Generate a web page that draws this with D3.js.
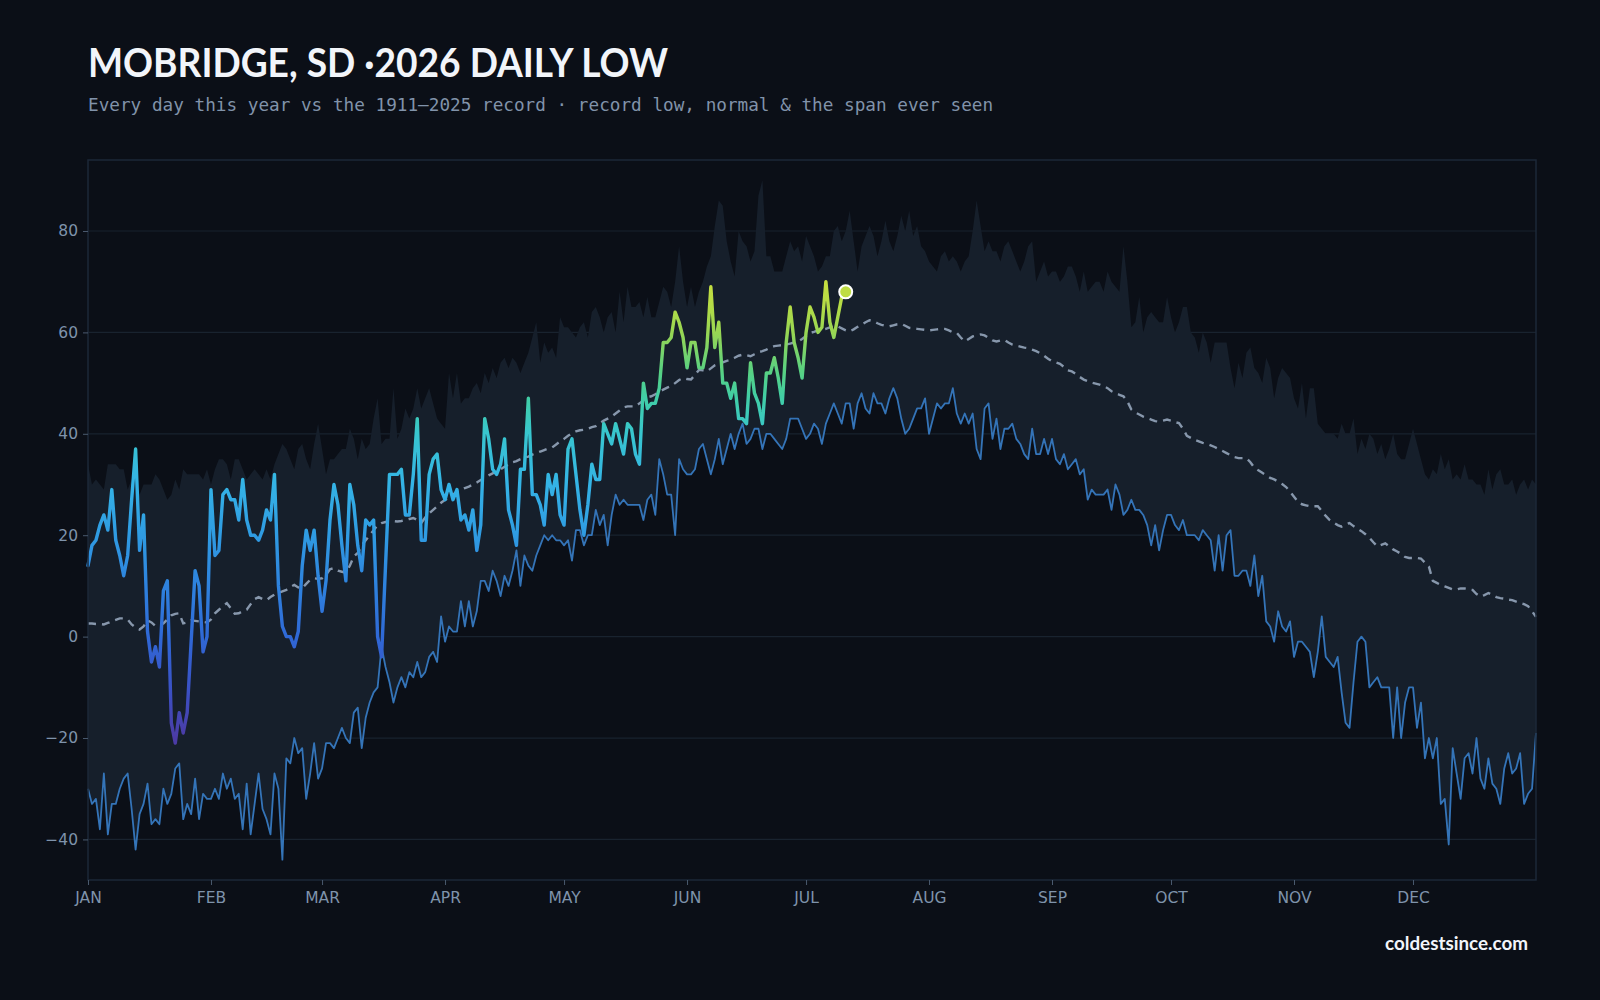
<!DOCTYPE html>
<html>
<head>
<meta charset="utf-8">
<script src="https://cdn.jsdelivr.net/npm/d3@7"></script>
<style>
  body { margin: 0; background: #0b0f17; }
</style>
</head>
<body>
<div id="chart"></div>
<script>
// 2026 daily lows so far, one value per day from Jan 1
const lows2026 = [
  14, 18, 19, 22, 24, 21, 29, 19, 16, 12,
  16, 27, 37, 17, 24, 1, -5, -2, -6, 9,
  11, -17, -21, -15, -19, -15, -1, 13, 10, -3,
  0, 29, 16, 17, 28, 29, 27, 27, 23, 31,
  23, 20, 20, 19, 21, 25, 23, 32, 10, 2,
  0, 0, -2, 1, 14, 21, 17, 21, 12, 5,
  11, 23, 30, 26, 18, 11, 30, 26, 18, 13,
  23, 22, 23, 0, -4, 14, 32, 32, 32, 33,
  24, 24, 32, 43, 19, 19, 32, 35, 36, 29,
  27, 30, 27, 29, 23, 24, 21, 25, 17, 22,
  43, 39, 33, 32, 34, 39, 25, 22, 18, 33,
  33, 47, 28, 28, 26, 22, 32, 28, 32, 24,
  22, 37, 39, 32, 25, 20, 26, 34, 31, 31,
  42, 40, 38, 42, 39, 36, 42, 41, 36, 34,
  50, 45, 46, 46, 49, 58, 58, 59, 64, 62,
  59, 53, 58, 58, 53, 53, 57, 69, 57, 62,
  50, 50, 47, 50, 43, 43, 42, 54, 48, 46,
  42, 52, 52, 55, 51, 46, 58, 65, 58, 55,
  51, 60, 65, 63, 60, 61, 70, 62, 59, 63,
  67, 68
];

// 1911-2025 record low for each calendar day
const recordLow = [
  -30, -33, -32, -38, -27, -39, -33, -33, -30, -28,
  -27, -34, -42, -35, -33, -29, -37, -36, -37, -30,
  -33, -31, -26, -25, -36, -33, -35, -28, -36, -31,
  -32, -32, -30, -32, -27, -30, -28, -32, -31, -38,
  -29, -39, -33, -27, -34, -36, -39, -27, -30, -44,
  -24, -25, -20, -23, -22, -32, -27, -21, -28, -26,
  -21, -21, -22, -20, -18, -20, -21, -15, -14, -22,
  -16, -13, -11, -10, -2, -6, -9, -13, -10, -8,
  -10, -7, -8, -5, -8, -7, -4, -3, -5, 4,
  -1, 2, 1, 1, 7, 2, 7, 2, 5, 11,
  11, 9, 13, 11, 8, 12, 10, 13, 17, 10,
  16, 14, 13, 16, 18, 20, 19, 20, 19, 19,
  18, 19, 15, 21, 21, 18, 20, 20, 25, 22,
  24, 18, 24, 28, 26, 27, 26, 26, 26, 26,
  23, 27, 28, 24, 35, 32, 28, 28, 20, 35,
  33, 32, 32, 33, 37, 38, 35, 32, 35, 39,
  34, 37, 40, 37, 40, 42, 38, 39, 41, 41,
  37, 40, 40, 39, 38, 37, 39, 43, 43, 43,
  41, 39, 40, 42, 41, 38, 42, 44, 46, 44,
  42, 46, 46, 41, 46, 48, 45, 44, 48, 46,
  46, 44, 47, 49, 47, 43, 40, 41, 43, 45,
  45, 47, 40, 43, 46, 45, 46, 46, 49, 44,
  42, 44, 42, 44, 37, 35, 45, 46, 39, 43,
  37, 41, 41, 42, 39, 38, 36, 35, 41, 36,
  36, 39, 36, 39, 35, 34, 36, 33, 34, 35,
  32, 33, 27, 29, 28, 28, 28, 29, 25, 30,
  28, 24, 25, 27, 25, 25, 24, 22, 18, 22,
  17, 21, 24, 24, 22, 21, 23, 20, 20, 20,
  19, 21, 20, 19, 13, 20, 13, 20, 21, 12,
  12, 13, 13, 10, 16, 8, 12, 3, 2, -1,
  5, 2, 1, 3, -4, -1, -1, -2, -3, -8,
  -3, 4, -4, -5, -6, -4, -11, -17, -18, -9,
  -1, 0, -1, -10, -9, -8, -10, -10, -10, -20,
  -10, -20, -13, -10, -10, -18, -13, -24, -20, -24,
  -20, -33, -32, -41, -22, -27, -32, -24, -23, -27,
  -20, -28, -30, -24, -29, -30, -33, -26, -23, -27,
  -26, -23, -33, -31, -30, -19
];

// warmest low ever seen for each calendar day (top of the span)
const recordHigh = [
  34, 30, 31, 30, 29, 34, 34, 34, 33, 33,
  29, 31, 32, 28, 30, 30, 30, 32, 31, 29,
  27, 28, 31, 29, 33, 32, 32, 32, 32, 31,
  33, 30, 33, 35, 35, 34, 31, 35, 35, 33,
  31, 32, 33, 32, 31, 33, 31, 34, 36, 38,
  37, 35, 33, 37, 38, 35, 33, 38, 42, 37,
  32, 35, 35, 36, 37, 37, 41, 39, 35, 39,
  37, 38, 43, 47, 38, 39, 39, 49, 39, 41,
  45, 43, 45, 49, 45, 47, 49, 46, 43, 42,
  41, 52, 47, 52, 46, 47, 47, 49, 50, 48,
  52, 50, 53, 51, 54, 55, 53, 55, 54, 52,
  54, 56, 59, 62, 54, 58, 56, 57, 55, 63,
  61, 61, 60, 59, 61, 62, 59, 64, 65, 63,
  60, 63, 64, 60, 68, 62, 69, 65, 65, 66,
  63, 67, 63, 63, 66, 69, 68, 65, 70, 77,
  70, 65, 69, 65, 68, 70, 73, 75, 81, 86,
  85, 78, 74, 71, 80, 78, 77, 74, 76, 87,
  90, 75, 75, 72, 72, 72, 75, 78, 76, 77,
  74, 79, 77, 75, 72, 73, 75, 75, 80, 81,
  78, 80, 84, 78, 72, 77, 79, 81, 79, 75,
  78, 82, 78, 76, 79, 83, 80, 84, 79, 81,
  77, 76, 74, 73, 72, 75, 76, 74, 75, 74,
  72, 74, 75, 80, 86, 81, 76, 78, 76, 76,
  74, 77, 78, 76, 74, 72, 74, 77, 78, 70,
  72, 74, 71, 72, 72, 70, 71, 73, 73, 71,
  68, 72, 68, 69, 70, 70, 68, 72, 70, 69,
  68, 77, 70, 61, 62, 67, 60, 63, 64, 63,
  62, 62, 67, 63, 60, 62, 65, 65, 60, 59,
  56, 60, 58, 54, 58, 58, 58, 58, 53, 49,
  54, 51, 56, 57, 53, 52, 50, 55, 53, 47,
  51, 53, 52, 51, 47, 45, 50, 43, 49, 49,
  42, 41, 40, 40, 40, 39, 42, 40, 40, 43,
  36, 39, 37, 40, 39, 36, 38, 35, 37, 40,
  36, 35, 35, 38, 41, 38, 35, 32, 31, 33,
  32, 36, 33, 35, 31, 32, 31, 34, 31, 31,
  30, 30, 28, 33, 29, 32, 33, 30, 30, 31,
  28, 30, 31, 29, 31, 30
];

// normal daily low
const normalLow = [
  2.6, 2.6, 2.5, 2.5, 2.4, 2.7, 3.0, 3.3, 3.6, 3.6,
  3.4, 2.4, 1.8, 1.4, 2.0, 3.2, 2.8, 2.1, 2.3, 2.6,
  3.4, 4.2, 4.5, 4.6, 2.6, 2.8, 3.2, 3.1, 3.0, 2.9,
  2.8, 3.4, 4.6, 5.3, 6.0, 6.6, 5.6, 4.5, 4.6, 5.0,
  5.3, 6.4, 7.4, 7.8, 7.4, 7.2, 7.8, 8.3, 8.6, 8.9,
  9.2, 9.8, 10.2, 9.7, 9.5, 10.4, 11.2, 11.5, 11.4, 11.5,
  12.2, 13.3, 13.5, 13.0, 12.8, 12.6, 14.0, 15.8, 16.5, 18.0,
  19.0, 20.0, 21.0, 22.0, 22.4, 22.6, 22.7, 22.8, 22.7, 22.8,
  23.0, 23.2, 23.4, 23.0, 22.4, 23.5, 24.3, 25.0, 25.7, 26.4,
  27.0, 27.3, 28.0, 28.6, 29.0, 29.3, 29.6, 30.0, 30.4, 30.9,
  31.3, 31.8, 32.2, 32.6, 33.0, 33.5, 33.9, 34.4, 34.6, 35.0,
  35.3, 35.5, 35.9, 36.2, 36.5, 36.8, 37.1, 37.3, 37.9, 38.5,
  39.0, 39.6, 40.1, 40.5, 40.7, 40.8, 41.0, 41.3, 41.5, 42.1,
  42.6, 43.0, 43.4, 44.0, 44.6, 45.2, 45.4, 45.4, 45.4, 46.0,
  46.6, 47.2, 47.4, 47.8, 48.3, 48.7, 49.1, 49.4, 50.0, 50.6,
  51.0, 50.8, 50.7, 51.6, 52.6, 52.5, 52.3, 52.9, 53.5, 53.8,
  54.1, 54.4, 54.6, 55.0, 55.4, 55.6, 55.5, 55.3, 55.7, 56.1,
  56.3, 56.6, 57.0, 57.3, 57.4, 57.5, 57.6, 57.8, 58.0, 58.2,
  58.7, 59.3, 59.9, 60.1, 60.4, 60.5, 60.7, 61.0, 61.2, 61.2,
  60.8, 60.4, 60.2, 60.6, 61.1, 61.5, 62.0, 62.4, 62.2, 61.8,
  61.5, 61.3, 61.2, 61.4, 61.6, 61.7, 61.3, 60.9, 60.8, 60.7,
  60.6, 60.5, 60.4, 60.5, 60.6, 60.7, 60.7, 60.4, 60.0, 59.9,
  59.0, 58.2, 58.7, 59.2, 59.4, 59.6, 59.4, 58.9, 58.4, 58.2,
  58.4, 58.5, 58.0, 57.6, 57.4, 57.2, 57.0, 56.9, 56.6, 56.3,
  55.9, 55.4, 54.8, 54.3, 54.1, 53.8, 53.2, 52.5, 52.3, 51.8,
  51.2, 50.7, 50.4, 50.1, 49.9, 49.7, 49.4, 49.0, 48.4, 48.0,
  47.7, 47.4, 46.4, 44.8, 44.2, 43.8, 43.4, 43.1, 42.8, 42.5,
  42.4, 42.6, 42.8, 42.6, 42.3, 42.1, 41.0, 39.6, 39.2, 38.8,
  38.5, 38.2, 38.0, 37.7, 37.4, 37.0, 36.6, 36.2, 35.8, 35.4,
  35.2, 35.2, 35.2, 34.4, 33.3, 32.8, 32.3, 31.8, 31.3, 31.0,
  30.6, 30.1, 29.5, 28.6, 27.6, 26.6, 26.1, 25.9, 25.7, 25.7,
  25.7, 24.8, 23.8, 23.0, 22.5, 22.0, 21.7, 22.1, 22.4, 21.8,
  21.3, 20.8, 20.2, 19.5, 18.6, 17.8, 18.1, 18.4, 17.8, 17.2,
  16.8, 16.3, 15.7, 15.5, 15.5, 15.5, 15.4, 14.6, 13.8, 11.0,
  10.6, 10.2, 9.9, 9.6, 9.3, 9.3, 9.5, 9.5, 9.3, 9.2,
  8.4, 7.9, 8.2, 8.6, 8.2, 7.8, 7.6, 7.5, 7.3, 7.2,
  6.9, 6.6, 6.4, 6.0, 5.0, 3.9
];

const yTicks = [-40, -20, 0, 20, 40, 60, 80];
const titleText = "MOBRIDGE, SD ·2026 DAILY LOW";
const subtitleText = "Every day this year vs the 1911–2025 record · record low, normal & the span ever seen";

// set the dimensions and margins of the graph
const margin = {top: 160, right: 64, bottom: 120, left: 88},
      width = 1600 - margin.left - margin.right,
      height = 1000 - margin.top - margin.bottom;

const svgRoot = d3.select("#chart")
  .append("svg")
    .attr("width", 1600)
    .attr("height", 1000)
    .style("display", "block")
    .style("background", "#0b0f17");

svgRoot.append("text")
  .attr("x", margin.left)
  .attr("y", 77)
  .attr("font-family", "Lato, 'Noto Sans', sans-serif")
  .attr("font-weight", 700)
  .attr("font-size", 40)
  .attr("textLength", 580)
  .attr("lengthAdjust", "spacingAndGlyphs")
  .attr("fill", "#f2f5fa")
  .text(titleText);

svgRoot.append("text")
  .attr("x", margin.left)
  .attr("y", 111)
  .attr("font-family", "'DejaVu Sans Mono', monospace")
  .attr("font-size", 17.7)
  .attr("fill", "#8193aa")
  .text(subtitleText);

svgRoot.append("text")
  .attr("x", 1528)
  .attr("y", 950)
  .attr("text-anchor", "end")
  .attr("font-family", "Lato, 'Noto Sans', sans-serif")
  .attr("font-weight", 700)
  .attr("font-size", 18)
  .attr("textLength", 143)
  .attr("lengthAdjust", "spacingAndGlyphs")
  .attr("fill", "#f2f5fa")
  .text("coldestsince.com");

const svg = svgRoot.append("g")
  .attr("transform", `translate(${margin.left},${margin.top})`);

const day0 = new Date(Date.UTC(2026, 0, 1));
const dayDate = i => new Date(Date.UTC(2026, 0, 1 + i));

const x = d3.scaleUtc()
  .domain([day0, new Date(Date.UTC(2027, 0, 1))])
  .range([0, width]);

const y = d3.scaleLinear()
  .domain([-48, 94])
  .range([height, 0]);

// colour of the 2026 line follows the temperature
const tempColor = d3.scaleLinear()
  .domain([-20, -10, 0, 10, 20, 30, 40, 47, 52, 60, 66, 72])
  .range(["#4b3ba6", "#3a52c6", "#2f68d6", "#2e82de", "#2f9be2", "#34b3e6",
          "#38c6cf", "#40cea6", "#55d184", "#98d653", "#b8dc45", "#cde03e"])
  .clamp(true);

// gridlines
svg.append("g")
  .selectAll("line")
  .data(yTicks)
  .join("line")
    .attr("x1", 0)
    .attr("x2", width)
    .attr("y1", d => y(d))
    .attr("y2", d => y(d))
    .attr("stroke", "#19232f")
    .attr("stroke-width", 1.2);

const climo = recordLow.map((lo, i) => ({date: dayDate(i), lo: lo, hi: recordHigh[i], norm: normalLow[i]}));
const thisYear = lows2026.map((v, i) => ({date: dayDate(i), value: v}));

// span ever seen
svg.append("path")
  .datum(climo)
  .attr("fill", "#161f2b")
  .attr("d", d3.area()
    .x(d => x(d.date))
    .y0(d => y(d.lo))
    .y1(d => y(d.hi)));

// record low
svg.append("path")
  .datum(climo)
  .attr("fill", "none")
  .attr("stroke", "#3474b8")
  .attr("stroke-width", 1.8)
  .attr("stroke-linejoin", "round")
  .attr("d", d3.line().x(d => x(d.date)).y(d => y(d.lo)));

// normal
svg.append("path")
  .datum(climo)
  .attr("fill", "none")
  .attr("stroke", "#8797ac")
  .attr("stroke-width", 2.4)
  .attr("stroke-dasharray", "8,6")
  .attr("d", d3.line().x(d => x(d.date)).y(d => y(d.norm)));

const grad = svg.append("defs").append("linearGradient")
  .attr("id", "tempGrad")
  .attr("gradientUnits", "userSpaceOnUse")
  .attr("x1", 0).attr("x2", 0)
  .attr("y1", y(-25)).attr("y2", y(75));

grad.selectAll("stop")
  .data(d3.range(-25, 76, 2.5))
  .join("stop")
    .attr("offset", d => (d + 25) / 100)
    .attr("stop-color", d => tempColor(d));

svg.append("path")
  .datum(thisYear)
  .attr("fill", "none")
  .attr("stroke", "url(#tempGrad)")
  .attr("stroke-width", 3.4)
  .attr("stroke-linejoin", "round")
  .attr("stroke-linecap", "round")
  .attr("d", d3.line().x(d => x(d.date)).y(d => y(d.value)));

const last = thisYear[thisYear.length - 1];
svg.append("circle")
  .attr("cx", x(last.date))
  .attr("cy", y(last.value))
  .attr("r", 6.5)
  .attr("fill", tempColor(last.value))
  .attr("stroke", "#ffffff")
  .attr("stroke-width", 2);

// frame
svg.append("rect")
  .attr("width", width)
  .attr("height", height)
  .attr("fill", "none")
  .attr("stroke", "#1d2838")
  .attr("stroke-width", 1.5);

// axes
const xAxis = svg.append("g")
  .attr("transform", `translate(0,${height})`)
  .call(d3.axisBottom(x)
    .tickValues(d3.utcMonths(day0, new Date(Date.UTC(2026, 11, 31))))
    .tickFormat(d => d3.utcFormat("%b")(d).toUpperCase())
    .tickSize(5)
    .tickPadding(7));

const yAxis = svg.append("g")
  .call(d3.axisLeft(y)
    .tickValues(yTicks)
    .tickSize(5)
    .tickPadding(5));

[xAxis, yAxis].forEach(ax => {
  ax.select(".domain").remove();
  ax.selectAll(".tick line").attr("stroke", "#4a5a6e");
  ax.selectAll(".tick text")
    .attr("fill", "#7f93ab")
    .attr("font-family", "'DejaVu Sans', sans-serif")
    .attr("font-size", 15.5);
});
</script>
</body>
</html>
